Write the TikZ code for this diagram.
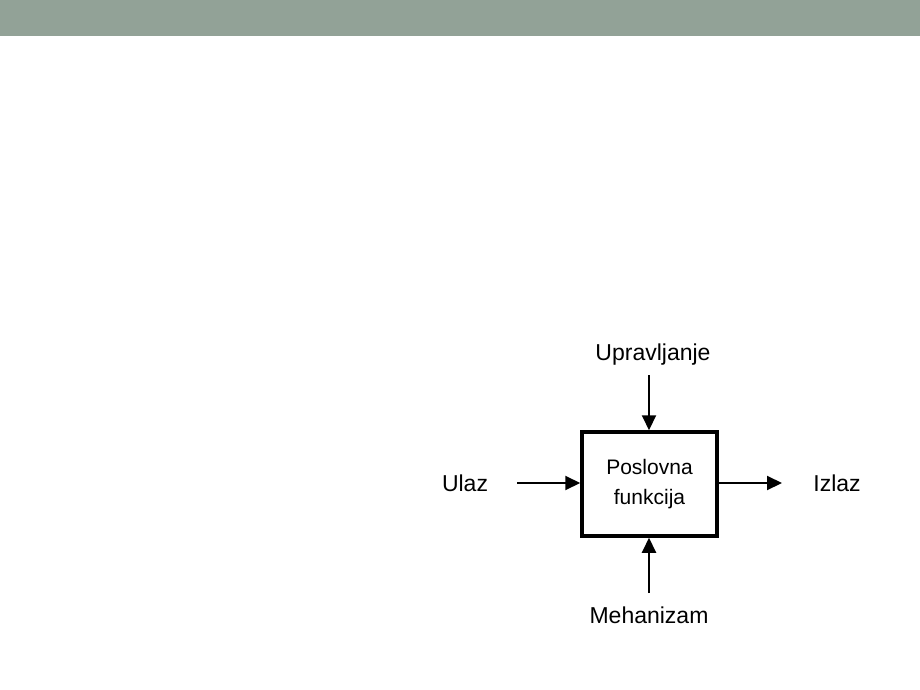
\documentclass[tikz,border=0pt]{standalone}
\usepackage{fontspec}
\setmainfont{Liberation Sans}
\usetikzlibrary{arrows.meta}
\definecolor{banner}{HTML}{92A297}
\begin{document}
\begin{tikzpicture}[x=1pt,y=-1pt,
  lbl/.style={inner sep=0pt,font=\fontsize{23}{26}\selectfont},
  conn/.style={line width=2pt,-{Triangle[length=15pt,width=14pt]}},
  fbox/.style={draw,line width=3.5pt,minimum width=135pt,minimum height=104pt,inner sep=0pt,align=center,font=\fontsize{21}{30}\selectfont}]
\useasboundingbox (0,0) rectangle (920,690);
\fill[banner] (0,0) rectangle (920,36);
\node[fbox] (f) at (649.5,484) {Poslovna\\funkcija};
\node[lbl] (u) at (653,355) {Upravljanje};
\node[lbl] (m) at (649,615) {Mehanizam};
\node[lbl] (ul) at (465,483) {Ulaz};
\node[lbl] (iz) at (837,483) {Izlaz};
\coordinate (ut) at (649,375);
\coordinate (mb) at (649,593);
\coordinate (ls) at (517,483);
\coordinate (re) at (782,483);
\draw[conn] (ut) -- (f.north -| ut);
\draw[conn] (mb) -- (f.south -| mb);
\draw[conn] (ls) -- (f.west |- ls);
\draw[line width=2pt,-{Triangle[length=15pt,width=14pt]}] (f.east |- re) -- (re);
\end{tikzpicture}
\end{document}
